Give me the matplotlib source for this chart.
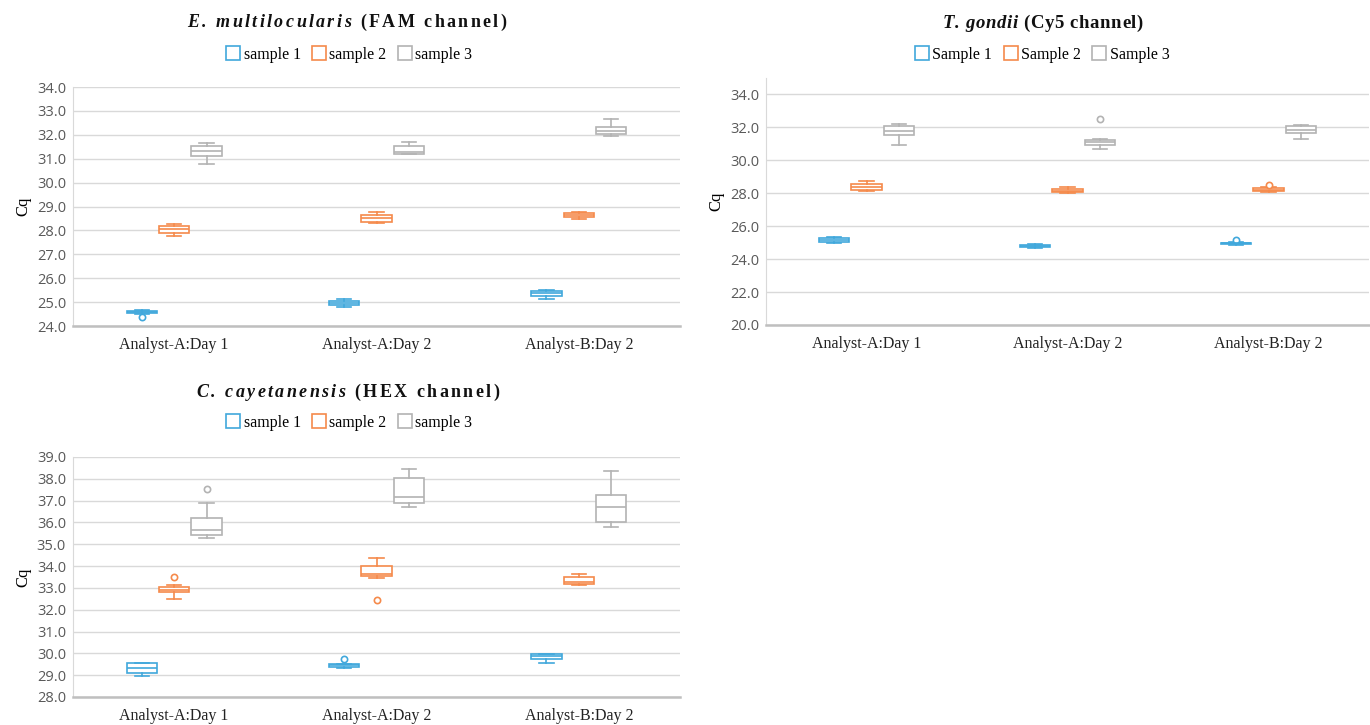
import numpy as np
import matplotlib.pyplot as plt
from matplotlib.lines import Line2D

groups = ["Analyst-A:Day 1", "Analyst-A:Day 2", "Analyst-B:Day 2"]
colors = ["#41A8DC", "#F58A4B", "#B3B3B3"]

# rows = analyst/day group, columns = sample 1, 2, 3
# E. multilocularis (FAM channel)
em_whislo = [[24.51, 27.75, 30.78], [24.80, 28.30, 31.18], [25.13, 28.46, 31.97]]
em_q1 = [[24.53, 27.88, 31.10], [24.88, 28.37, 31.21], [25.26, 28.55, 32.03]]
em_med = [[24.58, 28.04, 31.33], [24.98, 28.51, 31.30], [25.37, 28.64, 32.16]]
em_q3 = [[24.62, 28.20, 31.52], [25.05, 28.64, 31.53], [25.47, 28.72, 32.32]]
em_whishi = [[24.66, 28.28, 31.67], [25.15, 28.78, 31.68], [25.52, 28.79, 32.67]]
em_fliers = [[[24.39], [], []], [[], [], []], [[], [], []]]

# T. gondii (Cy5 channel)
tg_whislo = [[24.97, 28.13, 30.95], [24.65, 28.01, 30.69], [24.87, 28.10, 31.30]]
tg_q1 = [[25.07, 28.21, 31.56], [24.73, 28.05, 30.93], [24.90, 28.13, 31.64]]
tg_med = [[25.17, 28.38, 31.81], [24.79, 28.15, 31.12], [24.95, 28.22, 31.85]]
tg_q3 = [[25.27, 28.56, 32.11], [24.85, 28.24, 31.26], [24.98, 28.32, 32.07]]
tg_whishi = [[25.37, 28.72, 32.21], [24.89, 28.38, 31.30], [25.02, 28.36, 32.15]]
tg_fliers = [[[], [], []], [[], [], [32.52]], [[25.16], [28.50], []]]

# C. cayetanensis (HEX channel)
cc_whislo = [[28.98, 32.51, 35.28], [29.34, 33.45, 36.71], [29.58, 33.14, 35.81]]
cc_q1 = [[29.11, 32.81, 35.41], [29.39, 33.55, 36.90], [29.74, 33.17, 36.04]]
cc_med = [[29.33, 32.92, 35.67], [29.46, 33.64, 37.16], [29.87, 33.25, 36.72]]
cc_q3 = [[29.55, 33.03, 36.22], [29.52, 34.02, 38.03], [29.95, 33.48, 37.28]]
cc_whishi = [[29.56, 33.12, 36.87], [29.53, 34.38, 38.44], [29.99, 33.65, 38.37]]
cc_fliers = [[[], [33.51], [37.54]], [[29.73], [32.46], []], [[], [], []]]

W, H = 1370, 725
fig = plt.figure(figsize=(W / 100, H / 100), dpi=100)

serif = "Liberation Serif"
tick_font = "Open Sans"


def draw_panel(ax, whislo, q1, med, q3, whishi, fliers, ylim, yticks):
    for g in range(3):
        for s in range(3):
            c = colors[s]
            st = dict(whislo=whislo[g][s], q1=q1[g][s], med=med[g][s], q3=q3[g][s],
                      whishi=whishi[g][s], fliers=fliers[g][s])
            ax.bxp([st], positions=[g + (s - 1) * 0.16], widths=0.15, capwidths=0.07,
                   patch_artist=True, showfliers=True, manage_ticks=False,
                   boxprops=dict(facecolor="white", edgecolor=c, lw=1.2),
                   medianprops=dict(color=c, lw=1.2),
                   whiskerprops=dict(color=c, lw=1.2),
                   capprops=dict(color=c, lw=1.2),
                   flierprops=dict(marker="o", markerfacecolor="white", markeredgecolor=c,
                                   markersize=4.5, markeredgewidth=1.2))
    ax.set_xlim(-0.5, 2.5)
    ax.set_ylim(*ylim)
    ax.set_yticks(yticks)
    ax.set_yticklabels([f"{v:.1f}" for v in yticks], fontfamily=tick_font, fontsize=10.5, color="#595959")
    ax.set_xticks(range(3))
    ax.set_xticklabels(groups, fontfamily=serif, fontsize=11.5, color="#222222")
    ax.tick_params(length=0)
    ax.tick_params(axis="y", pad=5)
    ax.tick_params(axis="x", pad=8)
    ax.grid(axis="y", color="#D9D9D9", lw=1)
    ax.set_axisbelow(True)
    for side in ["top", "right"]:
        ax.spines[side].set_visible(False)
    ax.spines["left"].set_color("#D9D9D9")
    ax.spines["bottom"].set_color("#BFBFBF")
    ax.spines["bottom"].set_linewidth(1.8)
    ax.set_ylabel("Cq", fontfamily=serif, fontsize=12, labelpad=4)


def spaced_title(xc, yb, runs, size, spacing):
    # draw the title char by char so the letter spacing can be widened
    r = fig.canvas.get_renderer()
    items = []
    for txt, style in runs:
        for ch in txt:
            if ch == " ":
                items.append((None, size * 100 / 72 * 0.25))
                continue
            t = fig.text(0, 1 - yb / H, ch, fontsize=size, fontweight="bold", fontstyle=style,
                         family=serif, ha="left", va="baseline", color="#111111")
            items.append((t, t.get_window_extent(r).width))
    total = sum(w for _, w in items) + spacing * (len(items) - 1)
    x = xc - total / 2
    for t, w in items:
        if t is not None:
            t.set_x(x / W)
        x += w + spacing


def legend(xc, yc, names):
    handles = [Line2D([], [], marker="s", ls="none", markerfacecolor="white", markeredgecolor=c,
                      markersize=10, markeredgewidth=1.2) for c in colors]
    fig.legend(handles, names, loc="center", bbox_to_anchor=(xc / W, 1 - yc / H), ncol=3,
               frameon=False, handlelength=0.7, handletextpad=0.3, columnspacing=0.8,
               prop=dict(family=serif, size=11.5))


ax1 = fig.add_axes([73 / W, 1 - 326 / H, 607 / W, 239 / H])
draw_panel(ax1, em_whislo, em_q1, em_med, em_q3, em_whishi, em_fliers, (24, 34), np.arange(24, 34.01, 1))
spaced_title(347, 27, [("E. multilocularis", "italic"), (" (FAM channel)", "normal")], 13, 2.4)
legend(350, 55, ["sample 1", "sample 2", "sample 3"])

ax2 = fig.add_axes([766 / W, 1 - 325 / H, 603 / W, 247 / H])
draw_panel(ax2, tg_whislo, tg_q1, tg_med, tg_q3, tg_whishi, tg_fliers, (20, 35), np.arange(20, 34.01, 2))
spaced_title(1043, 28, [("T. gondii", "italic"), (" (Cy5 channel)", "normal")], 13.5, 0.6)
legend(1043, 55, ["Sample 1", "Sample 2", "Sample 3"])

ax3 = fig.add_axes([73 / W, 1 - 697 / H, 607 / W, 240 / H])
draw_panel(ax3, cc_whislo, cc_q1, cc_med, cc_q3, cc_whishi, cc_fliers, (28, 39), np.arange(28, 39.01, 1))
spaced_title(348, 397, [("C. cayetanensis", "italic"), (" (HEX channel)", "normal")], 13, 2.4)
legend(350, 423, ["sample 1", "sample 2", "sample 3"])

fig.savefig("out.png", dpi=100)
